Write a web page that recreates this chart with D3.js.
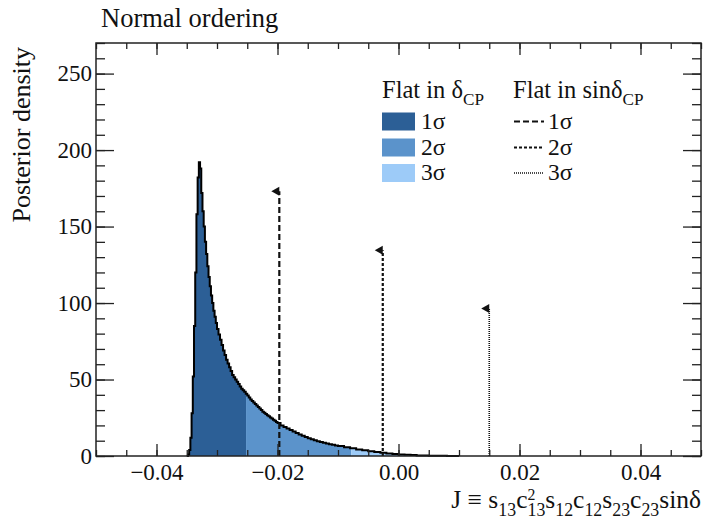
<!DOCTYPE html>
<html>
<head>
<meta charset="utf-8">
<script src="https://cdn.jsdelivr.net/npm/d3@7"></script>
<style>
  body { margin: 0; background: #fff; }
  svg { display: block; }
  text { font-family: "Liberation Serif", "DejaVu Serif", serif; fill: #111; }
</style>
</head>
<body>
<div id="chart"></div>
<script>
// ---- data ----
// step histogram: J at left edge of each bin, and its posterior density
var histJ = [
  -0.0350, -0.0348, -0.0346, -0.0344, -0.0342, -0.0340, -0.0338, -0.0336, -0.0334, -0.0332,
  -0.0330, -0.0328, -0.0326, -0.0324, -0.0322, -0.0320, -0.0318, -0.0316, -0.0314, -0.0312,
  -0.0310, -0.0308, -0.0306, -0.0304, -0.0302,
  -0.03000, -0.02975, -0.02950, -0.02925, -0.02900, -0.02875, -0.02850, -0.02825,
  -0.02800, -0.02775, -0.02750, -0.02725, -0.02700, -0.02675, -0.02650, -0.02625,
  -0.02600, -0.02575, -0.02550, -0.02525, -0.02500, -0.02475, -0.02450, -0.02425,
  -0.02400, -0.02375, -0.02350, -0.02325, -0.02300, -0.02275, -0.02250, -0.02225,
  -0.02200, -0.02175, -0.02150, -0.02125, -0.02100, -0.02075, -0.02050, -0.02025,
  -0.0200, -0.0195, -0.0190, -0.0185, -0.0180, -0.0175, -0.0170, -0.0165, -0.0160, -0.0155,
  -0.0150, -0.0145, -0.0140, -0.0135, -0.0130, -0.0125, -0.0120, -0.0115, -0.0110, -0.0105,
  -0.0100, -0.0090, -0.0080, -0.0070, -0.0060,
  -0.0050, -0.0040, -0.0030, -0.0020, -0.0010, 0.0000, 0.0010, 0.0020, 0.0030, 0.0040,
  0.0050, 0.0060, 0.0080, 0.0100
];
var histDensity = [
  0, 1, 4, 12, 28, 52, 85, 120, 158, 182,
  192, 188, 172, 160, 150, 140, 132, 124, 117, 111,
  105, 100, 95, 91, 87,
  83, 79.5, 76, 72.5, 69, 66, 63, 60.5,
  58, 55.5, 53, 51.5, 50, 48.5, 47, 45.5,
  44, 43, 42, 40.7, 39.5, 38.2, 37, 36,
  35, 34, 33, 32, 31, 30, 29, 28.2,
  27.5, 26.7, 26, 25.2, 24.5, 23.7, 23, 22.2,
  21.5, 20, 19, 18, 17, 16, 15, 14, 13.2, 12.4,
  11.6, 11, 10.3, 9.7, 9.2, 8.7, 8.2, 7.7, 7.3, 6.9,
  6.5, 5.7, 5.0, 4.3, 3.7,
  3.1, 2.6, 2.1, 1.7, 1.3, 1.0, 0.8, 0.6, 0.4, 0.3,
  0.2, 0.1, 0.05, 0
];

// credible intervals, flat in deltaCP
var bandNames = ["1σ", "2σ", "3σ"];
var bandLow = [-0.0352, -0.0252, -0.0078];
var bandHigh = [-0.0252, -0.0078, 0.005];
var bandColors = ["#2c5f96", "#5b93cb", "#9dcbf8"];

// upper limits, flat in sin(deltaCP)
var sinNames = ["1σ", "2σ", "3σ"];
var sinJ = [-0.0197, -0.0026, 0.0150];
var sinHeight = [173, 134.5, 96.5];
var sinDash = ["6,3", "3,2", "1,1"];
var sinWidth = [2.2, 2.2, 1.6];

var xTicks = [-0.04, -0.02, 0.00, 0.02, 0.04];
var xTickLabels = ["\u22120.04", "\u22120.02", "0.00", "0.02", "0.04"];
var yTicks = [0, 50, 100, 150, 200, 250];

var W = 703, H = 526;
var padL = 96, padR = 701, padT = 43, padB = 456;

var svg = d3.select("#chart").append("svg").attr("width", W).attr("height", H);

var x = d3.scaleLinear().domain([-0.05, 0.05]).range([padL, padR]);
var y = d3.scaleLinear().domain([0, 270]).range([padB, padT]);

var pts = histJ.map(function(j, i){ return [j, histDensity[i]]; });

var defs = svg.append("defs");

// ---- filled bands ----
var area = d3.area()
  .x(function(d){ return x(d[0]); })
  .y0(y(0))
  .y1(function(d){ return y(d[1]); })
  .curve(d3.curveStepAfter);

bandLow.forEach(function(lo, i){
  defs.append("clipPath").attr("id", "band" + i)
    .append("rect")
      .attr("x", x(lo)).attr("y", padT)
      .attr("width", x(bandHigh[i]) - x(lo)).attr("height", padB - padT);
  svg.append("path")
    .datum(pts)
    .attr("clip-path", "url(#band" + i + ")")
    .attr("fill", bandColors[i])
    .attr("d", area);
});

// histogram outline
var line = d3.line()
  .x(function(d){ return x(d[0]); })
  .y(function(d){ return y(d[1]); })
  .curve(d3.curveStepAfter);

svg.append("path")
  .datum(pts)
  .attr("fill", "none")
  .attr("stroke", "#000")
  .attr("stroke-width", 2)
  .attr("d", line);

// ---- sin(deltaCP) limit lines ----
sinJ.forEach(function(j, i){
  var px = x(j), py = y(sinHeight[i]);
  svg.append("line")
    .attr("x1", px).attr("x2", px)
    .attr("y1", y(0)).attr("y2", py)
    .attr("stroke", "#111")
    .attr("stroke-width", sinWidth[i])
    .attr("stroke-dasharray", sinDash[i]);
  svg.append("path")
    .attr("d", "M" + (px - 8) + "," + py + "L" + px + "," + (py - 4.5) + "L" + px + "," + (py + 4.5) + "Z")
    .attr("fill", "#111");
});

// ---- axes ----
function styleAxis(g){
  g.select(".domain").remove();
  g.selectAll(".tick line").attr("stroke", "#222").attr("stroke-width", 1.3);
}

var xMinor = d3.range(-0.05, 0.0501, 0.005);
var yMinor = d3.range(0, 271, 10);

svg.append("g").attr("transform", "translate(0," + padB + ")")
  .call(d3.axisBottom(x).tickValues(xMinor).tickSize(-6).tickFormat(""))
  .call(styleAxis);
svg.append("g").attr("transform", "translate(0," + padT + ")")
  .call(d3.axisTop(x).tickValues(xMinor).tickSize(-6).tickFormat(""))
  .call(styleAxis);
svg.append("g").attr("transform", "translate(0," + padT + ")")
  .call(d3.axisTop(x).tickValues(xTicks).tickSize(-12).tickFormat(""))
  .call(styleAxis);
var xAxis = svg.append("g").attr("transform", "translate(0," + padB + ")")
  .call(d3.axisBottom(x).tickValues(xTicks).tickSize(-12).tickPadding(8)
    .tickFormat(function(d, i){ return xTickLabels[i]; }))
  .call(styleAxis);
xAxis.selectAll("text").attr("font-size", 23).attr("fill", "#111")
  .style("font-family", "Liberation Serif");

svg.append("g").attr("transform", "translate(" + padL + ",0)")
  .call(d3.axisLeft(y).tickValues(yMinor).tickSize(-9).tickFormat(""))
  .call(styleAxis);
svg.append("g").attr("transform", "translate(" + padR + ",0)")
  .call(d3.axisRight(y).tickValues(yMinor).tickSize(-9).tickFormat(""))
  .call(styleAxis);
svg.append("g").attr("transform", "translate(" + padR + ",0)")
  .call(d3.axisRight(y).tickValues(yTicks).tickSize(-18).tickFormat(""))
  .call(styleAxis);
var yAxis = svg.append("g").attr("transform", "translate(" + padL + ",0)")
  .call(d3.axisLeft(y).tickValues(yTicks).tickSize(-18).tickPadding(4))
  .call(styleAxis);
yAxis.selectAll("text").attr("font-size", 23).attr("fill", "#111")
  .style("font-family", "Liberation Serif");

// frame
svg.append("rect")
  .attr("x", padL).attr("y", padT)
  .attr("width", padR - padL).attr("height", padB - padT)
  .attr("fill", "none").attr("stroke", "#222").attr("stroke-width", 1.5);

// ---- texts ----
svg.append("text").attr("x", 101).attr("y", 27).attr("font-size", 26.5)
  .text("Normal ordering");

svg.append("text")
  .attr("transform", "translate(30,47) rotate(-90)")
  .attr("text-anchor", "end")
  .attr("font-size", 26)
  .text("Posterior density");

// rich text helper: segments laid out left to right
function rich(g, segs, size){
  var cx = 0;
  segs.forEach(function(s){
    if (s.m === "n") {
      var t = g.append("text").attr("x", cx).attr("y", 0).attr("font-size", size).text(s.t);
      cx += t.node().getComputedTextLength();
    } else if (s.m === "sub") {
      var t2 = g.append("text").attr("x", cx).attr("y", size * 0.3).attr("font-size", size * 0.7).text(s.t);
      cx += t2.node().getComputedTextLength();
    } else if (s.m === "stack") {
      var a = g.append("text").attr("x", cx).attr("y", -size * 0.32).attr("font-size", size * 0.62).text(s.sup);
      var b = g.append("text").attr("x", cx).attr("y", size * 0.3).attr("font-size", size * 0.7).text(s.sub);
      cx += Math.max(a.node().getComputedTextLength(), b.node().getComputedTextLength());
    }
  });
  return cx;
}

var xt = svg.append("g");
var xtw = rich(xt, [
  {m: "n", t: "J \u2261 s"}, {m: "sub", t: "13"},
  {m: "n", t: "c"}, {m: "stack", sup: "2", sub: "13"},
  {m: "n", t: "s"}, {m: "sub", t: "12"},
  {m: "n", t: "c"}, {m: "sub", t: "12"},
  {m: "n", t: "s"}, {m: "sub", t: "23"},
  {m: "n", t: "c"}, {m: "sub", t: "23"},
  {m: "n", t: "sin\u03b4"}
], 25.5);
xt.attr("transform", "translate(" + (701 - xtw) + ",508)");

// legend
var lg1 = svg.append("g").attr("transform", "translate(382,98)");
rich(lg1, [{m: "n", t: "Flat in \u03b4"}, {m: "sub", t: "CP"}], 24.5);
var lg2 = svg.append("g").attr("transform", "translate(513,98)");
rich(lg2, [{m: "n", t: "Flat in sin\u03b4"}, {m: "sub", t: "CP"}], 24.5);

var rowY = [121.5, 147.5, 173];
bandNames.forEach(function(name, i){
  svg.append("rect").attr("x", 382).attr("y", rowY[i] - 9)
    .attr("width", 33).attr("height", 18).attr("fill", bandColors[i]);
  svg.append("text").attr("x", 421).attr("y", rowY[i] + 7).attr("font-size", 23.5).text(name);
});
sinNames.forEach(function(name, i){
  svg.append("line").attr("x1", 514).attr("x2", 544)
    .attr("y1", rowY[i]).attr("y2", rowY[i])
    .attr("stroke", "#111").attr("stroke-width", sinWidth[i] * 0.8)
    .attr("stroke-dasharray", sinDash[i]);
  svg.append("text").attr("x", 548).attr("y", rowY[i] + 7).attr("font-size", 23.5).text(name);
});
</script>
</body>
</html>
